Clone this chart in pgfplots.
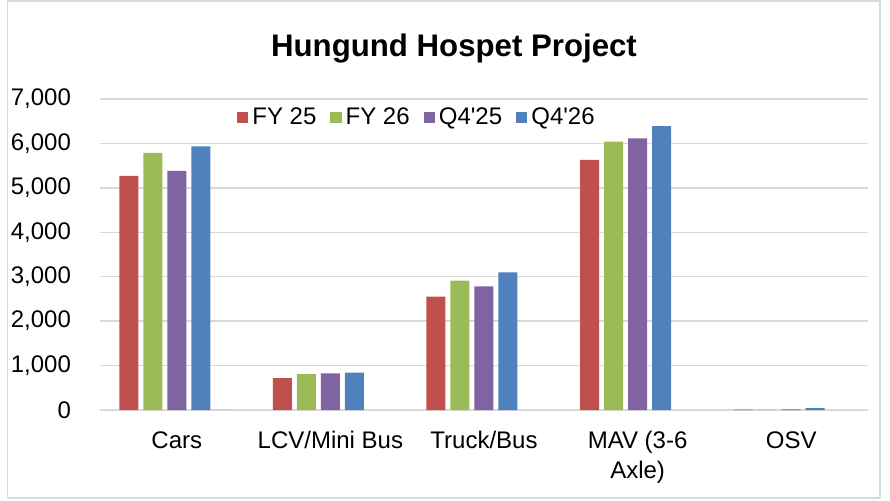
\documentclass[border=0pt]{standalone}
\usepackage{pgfplots}
\pgfplotsset{compat=1.18}
\usepackage{fontspec}
\setmainfont{Liberation Sans}[Ligatures=TeXOff]
\definecolor{cRed}{HTML}{C0504D}
\definecolor{cGreen}{HTML}{9BBB59}
\definecolor{cPurple}{HTML}{8064A2}
\definecolor{cBlue}{HTML}{4F81BD}
\definecolor{cGrid}{HTML}{D9D9D9}
\begin{document}
\begin{tikzpicture}
\useasboundingbox (-50pt,-45pt) rectangle (395pt,205pt);
\draw[cGrid, line width=0.75pt] (-46.25pt,-44pt) rectangle (390pt,204.5pt);
\begin{axis}[
  at={(0pt,0pt)}, anchor=south west,
  scale only axis,
  width=384pt, height=155.5pt,
  ybar, bar width=9.5pt,
  xmin=-0.5, xmax=4.5,
  ymin=0, ymax=7000,
  ytick={0,1000,...,7000},
  xtick={0,1,2,3,4},
  xticklabels={Cars, LCV/Mini Bus, Truck/Bus, {MAV (3-6\\Axle)}, OSV},
  xticklabel style={align=center, font=\fontsize{12}{15}\selectfont, yshift=-3pt},
  yticklabel style={font=\fontsize{12}{14}\selectfont, xshift=-11pt},
  /pgf/number format/assume math mode=true,
  /pgf/number format/1000 sep={,},
  scaled y ticks=false,
  ymajorgrids, grid style={cGrid, line width=0.75pt},
  axis line style={draw=none},
  tick style={draw=none},
  legend style={at={(0.414,0.94)}, anchor=center, draw=none, fill=none,
    legend columns=4, font=\fontsize{12}{14}\selectfont,
    /tikz/every even column/.append style={column sep=5pt}},
  legend image code/.code={\fill[#1] (0pt,-2.8pt) rectangle (5.6pt,2.8pt);},
]
\addplot[fill=cRed, draw=none, bar shift=-24pt] coordinates {(0,5270) (1,720) (2,2550) (3,5630) (4,10)};
\addplot[fill=cGreen, draw=none, bar shift=-12pt] coordinates {(0,5790) (1,810) (2,2910) (3,6040) (4,10)};
\addplot[fill=cPurple, draw=none, bar shift=0pt] coordinates {(0,5380) (1,825) (2,2785) (3,6115) (4,15)};
\addplot[fill=cBlue, draw=none, bar shift=12pt] coordinates {(0,5935) (1,840) (2,3100) (3,6390) (4,40)};
\addplot[fill=cBlue!35, draw=none, bar shift=24pt, forget plot] coordinates {(0,15) (1,0) (2,0) (3,0) (4,0)};
\legend{FY 25, FY 26, Q4'25, Q4'26}
\end{axis}
\node[font=\fontsize{15.6}{19}\selectfont\bfseries] at (177pt,181pt) {Hungund Hospet Project};
\end{tikzpicture}
\end{document}
